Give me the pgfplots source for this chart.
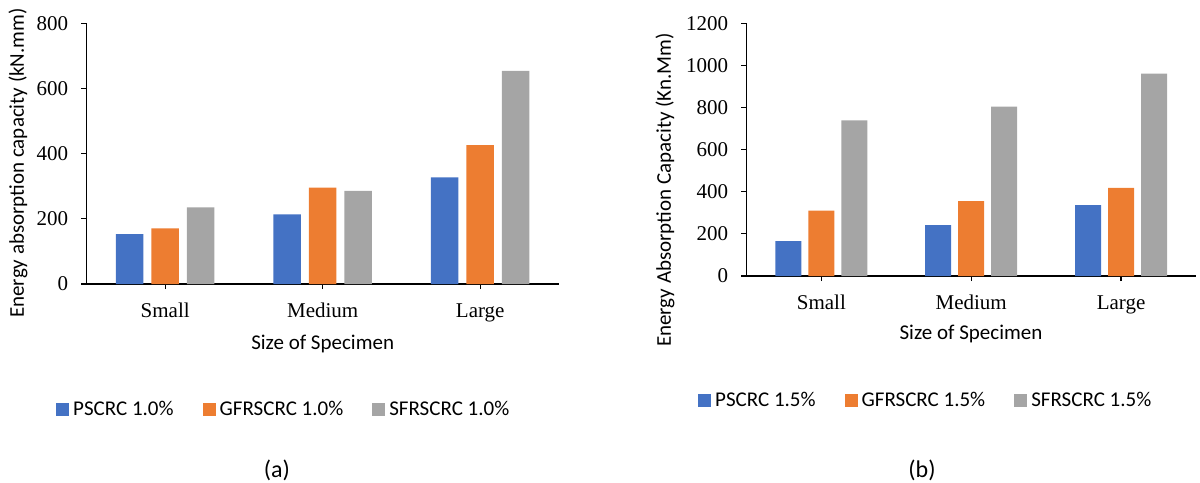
\documentclass[border=0pt]{standalone}
\usepackage{pgfplots}
\pgfplotsset{compat=1.18}
\usepackage{fontspec}
\setmainfont{Liberation Serif}
\newfontfamily\carlito{Carlito}

\definecolor{cblue}{HTML}{4472C4}
\definecolor{corange}{HTML}{ED7D31}
\definecolor{cgray}{HTML}{A5A5A5}

\newcommand\tickfont{\fontsize{21bp}{25bp}\selectfont}
\newcommand\labfont{\carlito\fontsize{21bp}{25bp}\selectfont}

% square legend swatch for the bar series
\pgfplotsset{
  sqlegend/.style={legend image code/.code={%
    \fill[##1, draw=none] (0bp,-6.5bp) rectangle (13bp,6.5bp);}}
}

\pgfplotsset{
  energy/.style={
    scale only axis,
    axis lines*=left,
    axis line style={line width=1.2bp, black},
    tick style={line width=1.2bp, black},
    tick align=outside,
    major tick length=5bp,
    xmin=-0.5, xmax=2.5, ymin=0,
    xtick={0,1,2},
    xticklabels={Small,Medium,Large},
    /pgf/number format/assume math mode=true,
    /pgf/number format/1000 sep={},
    ticklabel style={font=\tickfont},
    yticklabel style={anchor=east, inner sep=0pt, xshift=-13bp},
    xticklabel style={anchor=base, inner sep=0pt, yshift=-28bp},
    ybar,
    every axis plot/.append style={draw=none},
    legend columns=3,
    legend style={draw=none, fill=none, inner sep=0pt, font=\labfont,
      anchor=west,
      nodes={inner sep=0pt, anchor=west},
      /tikz/every odd column/.append style={column sep=4bp},
      /tikz/every even column/.append style={column sep=29bp}},
  }
}

\begin{document}
\begin{tikzpicture}
\path[use as bounding box] (0,0) rectangle (1200bp,-483bp);

% (a) 1.0 % fibre content
\begin{axis}[energy,
  at={(86.4bp,-284bp)}, anchor=south west,
  width=472.6bp, height=260.7bp,
  ymax=800, ytick={0,200,...,800},
  bar width=27.5bp, ybar=8bp,
  legend style={at={(axis description cs:-0.0643,-0.4795)}}]
\addplot[fill=cblue, sqlegend]   coordinates {(0,153) (1,214) (2,327)};
\addlegendentry{PSCRC 1.0\%}
\addplot[fill=corange, sqlegend] coordinates {(0,171) (1,296) (2,426)};
\addlegendentry{GFRSCRC 1.0\%}
\addplot[fill=cgray, sqlegend]   coordinates {(0,235) (1,286) (2,654)};
\addlegendentry{SFRSCRC 1.0\%}
\end{axis}

% (b) 1.5 % fibre content
\begin{axis}[energy,
  at={(746.4bp,-276bp)}, anchor=south west,
  width=449.6bp, height=252.7bp,
  ymax=1200, ytick={0,200,...,1200},
  bar width=26bp, ybar=7bp,
  legend style={at={(axis description cs:-0.1077,-0.4907)}}]
\addplot[fill=cblue, sqlegend]   coordinates {(0,166) (1,242) (2,337)};
\addlegendentry{PSCRC 1.5\%}
\addplot[fill=corange, sqlegend] coordinates {(0,310) (1,356) (2,418)};
\addlegendentry{GFRSCRC 1.5\%}
\addplot[fill=cgray, sqlegend]   coordinates {(0,739) (1,804) (2,961)};
\addlegendentry{SFRSCRC 1.5\%}
\end{axis}

% axis titles and panel captions
\node[font=\labfont, rotate=90] at (18bp,-163bp) {Energy absorption capacity (kN.mm)};
\node[font=\labfont, rotate=90] at (665bp,-190bp) {Energy Absorption Capacity (Kn.Mm)};
\node[font=\labfont, anchor=base] at (322.7bp,-349bp) {Size of Specimen};
\node[font=\labfont, anchor=base] at (971bp,-339bp) {Size of Specimen};
\node[font=\carlito\fontsize{24bp}{28bp}\selectfont] at (277bp,-470bp) {(a)};
\node[font=\carlito\fontsize{24bp}{28bp}\selectfont] at (922bp,-470bp) {(b)};
\end{tikzpicture}
\end{document}
